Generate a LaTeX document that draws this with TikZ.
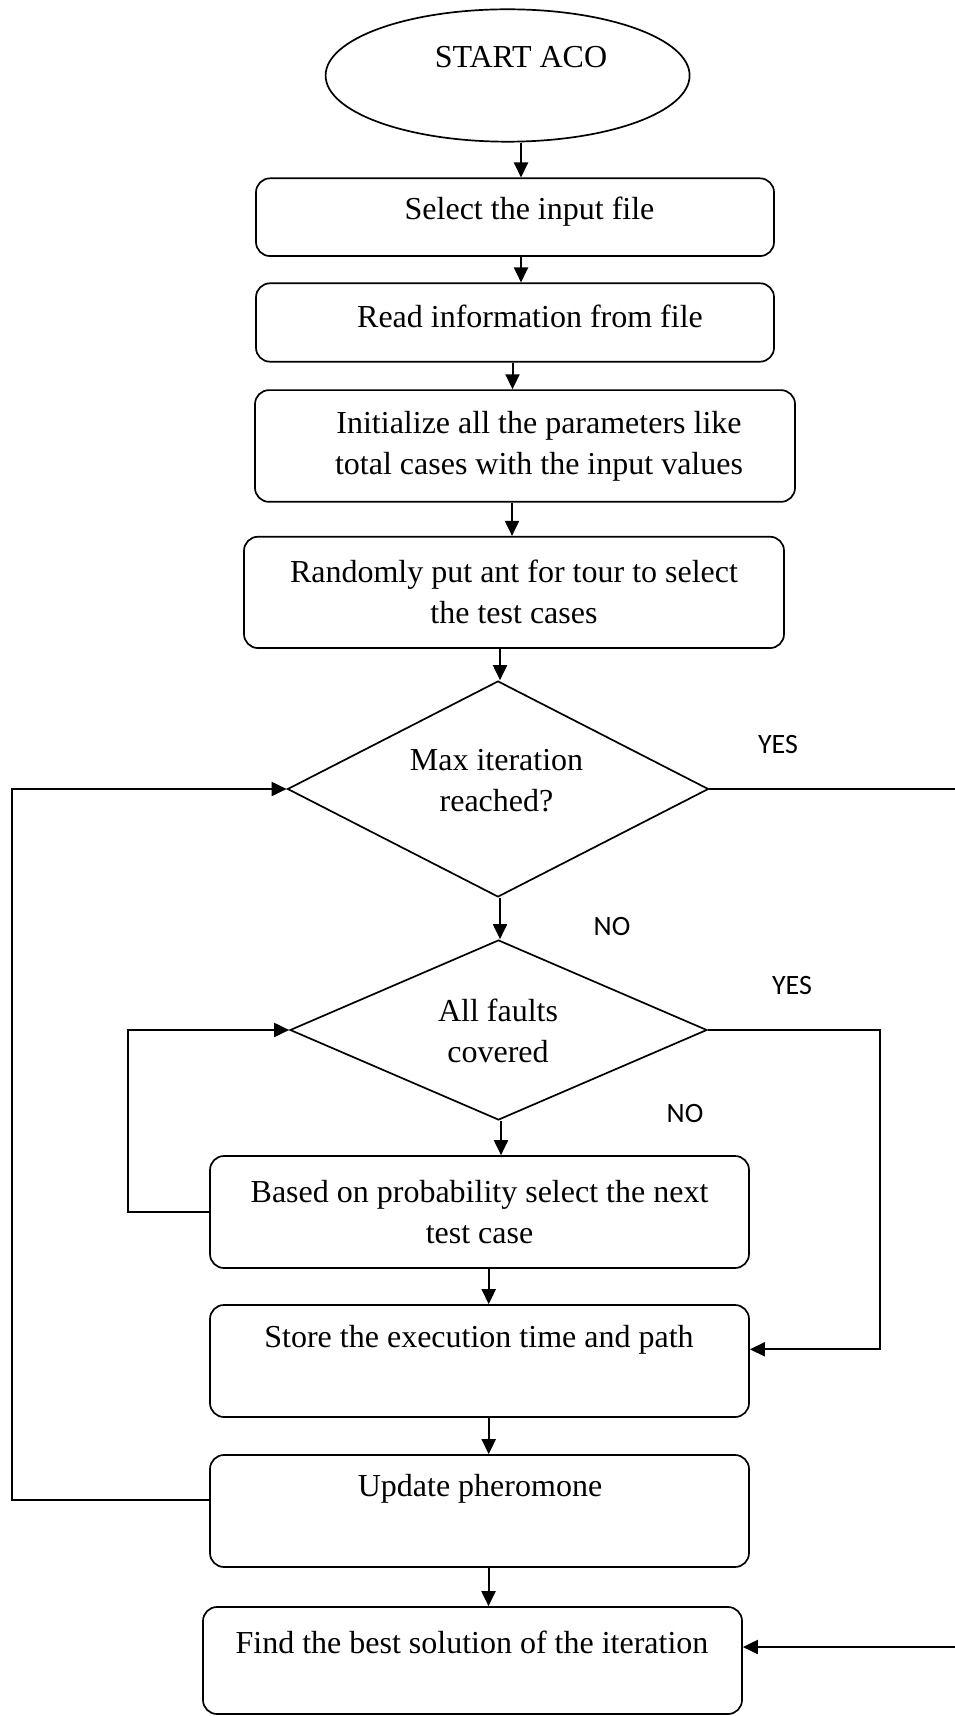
\documentclass[tikz,border=0pt]{standalone}
\usepackage{fontspec}
\setmainfont{Liberation Serif}
\newfontfamily\lblfont{Carlito}
\usetikzlibrary{shapes.geometric,arrows.meta}
\begin{document}
\begin{tikzpicture}[x=0.5pt,y=-0.5pt,
  line width=0.85pt,
  box/.style={draw,rounded corners=7pt,inner sep=0pt,minimum width=#1},
  box/.default=259pt,
  dia/.style={draw,diamond,inner sep=0pt},
  txt/.style={inner sep=0pt,align=center,font=\fontsize{16}{20.5}\selectfont},
  lbl/.style={inner sep=0pt,font=\lblfont\fontsize{14}{16}\selectfont},
  arr/.style={line width=1pt,-{Triangle[length=7.5pt,width=7pt]}}]
\path[fill=white,use as bounding box] (0,0) rectangle (954,1716);

% shapes
\node[draw,ellipse,inner sep=0pt,minimum width=182pt,minimum height=66.2pt] (st) at (507.6,75.5) {};
\node[box,minimum height=38.85pt] (b1) at (515,217.2) {};
\node[box,minimum height=39.2pt] (b2) at (515,322.5) {};
\node[box=270pt,minimum height=55.85pt] (b3) at (525,446) {};
\node[box=270pt,minimum height=55.65pt] (b4) at (514,592.4) {};
\node[dia,minimum width=210.5pt,minimum height=108pt] (d1) at (498,789) {};
\node[dia,minimum width=208.5pt,minimum height=90pt] (d2) at (498.5,1030) {};
\node[box=269.5pt,minimum height=56pt] (b6) at (479.5,1212) {};
\node[box=269.5pt,minimum height=56pt] (b7) at (479.5,1361) {};
\node[box=269.5pt,minimum height=56pt] (b8) at (479.5,1511) {};
\node[box=269.5pt,minimum height=53.5pt] (b9) at (472.5,1660.5) {};

% texts
\node[txt] (t0) at (521,57) {START ACO};
\node[txt] (t1) at (529.5,212) {Select the input file};
\node[txt] (t2) at (530,316) {Read information from file};
\node[txt] (t3) at (539,446) {Initialize all the parameters like\\total cases with the input values};
\node[txt] (t4) at (514,591.7) {Randomly put ant for tour to select\\the test cases};
\node[txt] (t5) at (496.5,781) {Max iteration\\reached?};
\node[txt] (t6) at (498,1031) {All faults\\covered};
\node[txt] (t7) at (479.5,1212) {Based on probability select the next\\test case};
\node[txt] (t8) at (479,1340) {Store the execution time and path};
\node[txt] (t9) at (480,1489) {Update pheromone};
\node[txt] (t10) at (472,1642) {Find the best solution of the iteration};

% labels
\node[lbl] (y1) at (778,745) {YES};
\node[lbl] (n1) at (612,927) {NO};
\node[lbl] (y2) at (792,986) {YES};
\node[lbl] (n2) at (685,1114) {NO};

% helper coordinates
\coordinate (lx1) at (12,0);
\coordinate (lx2) at (128,0);
\coordinate (rx2) at (880,0);
\coordinate (rx1) at (962,0);
\coordinate (b7r) at ([yshift=5.85pt]b7.east);
\coordinate (b8l) at ([yshift=5.5pt]b8.west);
\coordinate (b9r) at ([yshift=6.75pt]b9.east);

% vertical arrows
\draw[arr] ([xshift=3pt]b1.north |- st.south) -- ([xshift=3pt]b1.north);
\draw[arr] ([xshift=3pt]b1.south) -- ([xshift=3pt]b2.north);
\draw[arr] ([xshift=-1.25pt]b2.south) -- ([xshift=-1.25pt]b2.south |- b3.north);
\draw[arr] ([xshift=-1pt]b4.north |- b3.south) -- ([xshift=-1pt]b4.north);
\draw[arr] ([xshift=1pt]d1.north |- b4.south) -- ([xshift=1pt]d1.north);
\draw[arr] ([xshift=1pt]d1.south) -- ([xshift=1pt]d1.south |- d2.north);
\draw[arr] ([xshift=1.25pt]d2.south) -- ([xshift=1.25pt]d2.south |- b6.north);
\draw[arr] ([xshift=4.6pt]b6.south) -- ([xshift=4.6pt]b7.north);
\draw[arr] ([xshift=4.6pt]b7.south) -- ([xshift=4.6pt]b8.north);
\draw[arr] ([xshift=4.5pt]b8.south) -- ([xshift=4.5pt]b8.south |- b9.north);

% loops
\draw[arr] (b6.west) -- (b6.west -| lx2) |- (d2.west);
\draw[arr] (b8l) -- (b8l -| lx1) |- (d1.west);
\draw[arr] (d2.east) -- (d2.east -| rx2) |- (b7r);
\draw[arr] (d1.east) -- (d1.east -| rx1) |- (b9r);
\end{tikzpicture}
\end{document}
